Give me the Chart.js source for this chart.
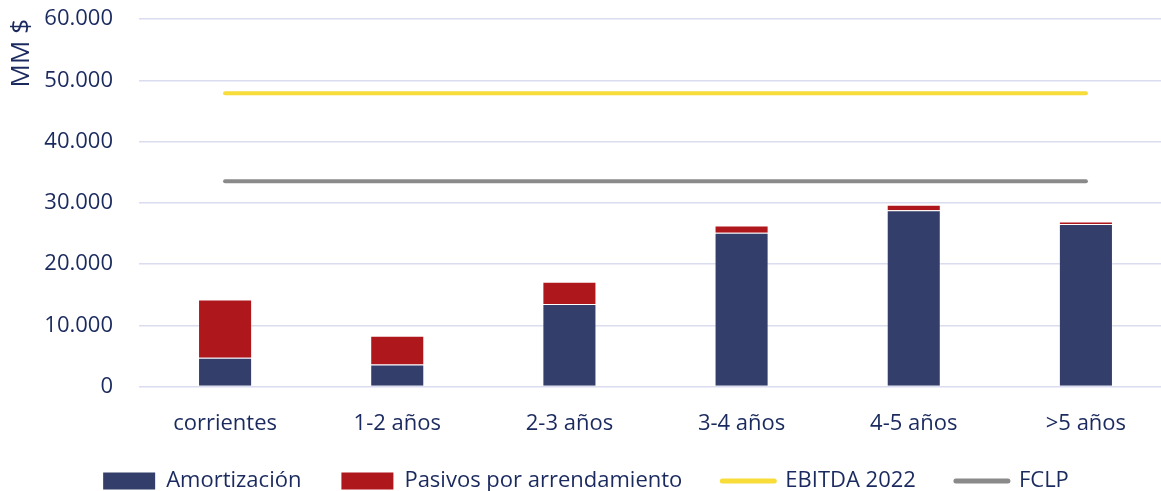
<!DOCTYPE html>
<html>
<head>
<meta charset="utf-8">
<script src="https://cdn.jsdelivr.net/npm/chart.js@4/dist/chart.umd.min.js"></script>
<style>
  html, body { margin: 0; padding: 0; background: #fff; overflow: hidden; }
  #wrap { position: relative; width: 1173px; height: 491px; }
</style>
</head>
<body>
<div id="wrap"><canvas id="chart"></canvas></div>
<script>
const categories = ["corrientes", "1-2 años", "2-3 años", "3-4 años", "4-5 años", ">5 años"];
const amortizacion = [4700, 3600, 13500, 25100, 28800, 26550];
const pasivos = [9500, 4700, 3600, 1200, 900, 400];
const ebitda2022 = [47900, 47900, 47900, 47900, 47900, 47900];
const fclp = [33500, 33500, 33500, 33500, 33500, 33500];
const yTicks = [0, 10000, 20000, 30000, 40000, 50000, 60000];

const navy = "#1b2a5e";
const fmt = v => String(v).replace(/\B(?=(\d{3})+(?!\d))/g, ".");

Chart.defaults.font.family = "'Open Sans', 'Noto Sans', sans-serif";
Chart.defaults.font.size = 22;
Chart.defaults.color = navy;

new Chart(document.getElementById("chart"), {
  type: "bar",
  data: {
    labels: categories,
    datasets: [
      {
        label: "Amortización",
        data: amortizacion,
        backgroundColor: "#333e6b",
        borderColor: "rgba(255,255,255,0.25)",
        borderWidth: 1,
        barPercentage: 0.314,
        categoryPercentage: 1,
      },
      {
        label: "Pasivos por arrendamiento",
        data: pasivos,
        backgroundColor: "#ae171c",
        borderColor: "rgba(255,255,255,0.25)",
        borderWidth: 1,
        barPercentage: 0.314,
        categoryPercentage: 1,
      },
      {
        type: "line",
        label: "EBITDA 2022",
        data: ebitda2022,
        stack: "ebitda",
        borderColor: "#f7dc3a",
        backgroundColor: "#f7dc3a",
        borderWidth: 4,
        borderCapStyle: "round",
        pointRadius: 0,
      },
      {
        type: "line",
        label: "FCLP",
        data: fclp,
        stack: "fclp",
        borderColor: "#8a8a8a",
        backgroundColor: "#8a8a8a",
        borderWidth: 4,
        borderCapStyle: "round",
        pointRadius: 0,
      },
    ],
  },
  options: {
    responsive: true,
    maintainAspectRatio: false,
    animation: false,
    layout: { padding: { top: 19, right: 1, bottom: -11, left: 0 } },
    plugins: {
      tooltip: { enabled: false },
      legend: {
        position: "bottom",
        labels: {
          usePointStyle: true,
          pointStyleWidth: 52,
          boxHeight: 17,
          padding: 40,
          color: navy,
          generateLabels(chart) {
            const items = Chart.defaults.plugins.legend.labels.generateLabels(chart);
            items.forEach(it => {
              const ds = chart.data.datasets[it.datasetIndex];
              if (ds.type === "line") {
                it.pointStyle = "line";
                it.lineWidth = 5;
                it.lineCap = "round";
                it.strokeStyle = ds.borderColor;
              } else {
                it.pointStyle = "rect";
                it.lineWidth = 0;
                it.fillStyle = ds.backgroundColor;
              }
            });
            return items;
          },
        },
      },
    },
    scales: {
      x: {
        stacked: true,
        grid: { display: false },
        border: { display: false },
        ticks: { color: navy, padding: 16, maxRotation: 0 },
        afterFit(scale) {
          scale.height = scale.height - 23;
        },
      },
      y: {
        stacked: true,
        min: 0,
        max: 60000,
        afterBuildTicks(scale) {
          scale.ticks = yTicks.map(v => ({ value: v }));
        },
        afterFit(scale) {
          scale.width = 139;
          scale.paddingTop = 0;
          scale.paddingBottom = 0;
        },
        grid: { color: "#dadcef", lineWidth: 1.5, drawTicks: false },
        border: { display: false },
        ticks: { color: navy, padding: 26, callback: v => fmt(v) },
        title: {
          display: true,
          text: "MM $",
          align: "end",
          color: navy,
          font: { size: 26 },
          padding: { top: 6, bottom: 0 },
        },
      },
    },
  },
});
</script>
</body>
</html>
